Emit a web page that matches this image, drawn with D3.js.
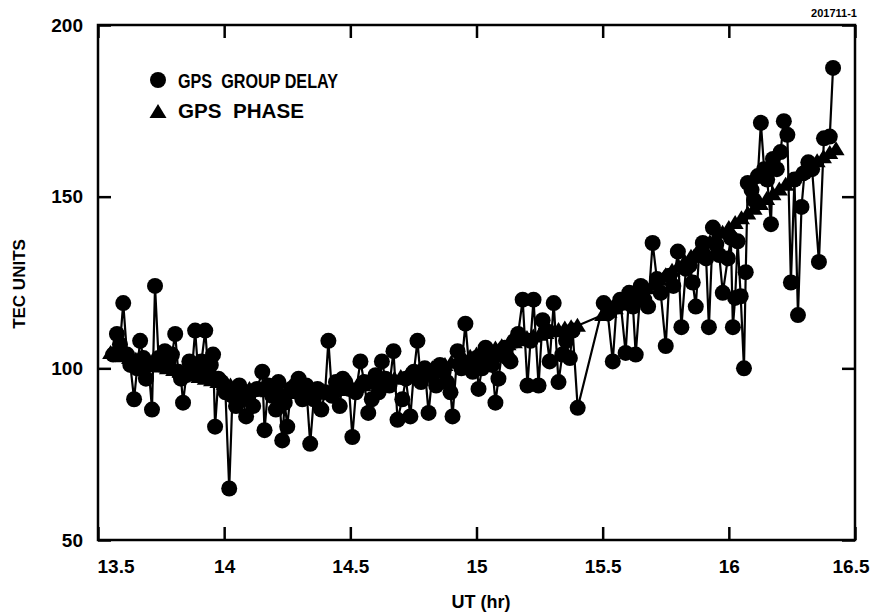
<!DOCTYPE html>
<html>
<head>
<meta charset="utf-8">
<script src="https://cdn.jsdelivr.net/npm/d3@7"></script>
<style>
  html, body { margin: 0; padding: 0; background: #fff; }
  svg { display: block; font-family: "Liberation Sans", Arial, Helvetica, sans-serif; font-weight: bold; }
</style>
</head>
<body>
<svg id="chart" width="872" height="614"></svg>
<script>
// ---------------- DATA ----------------
const xTickValues = [13.5, 14, 14.5, 15, 15.5, 16, 16.5];
const xTickLabels = ["13.5", "14", "14.5", "15", "15.5", "16", "16.5"];
const yTickValues = [50, 100, 150, 200];
const yTickLabels = ["50", "100", "150", "200"];

// GPS group delay (circles)
const gdTime = [
  13.56, 13.575, 13.587, 13.60, 13.615, 13.628, 13.643, 13.655, 13.667, 13.68,
  13.69, 13.70, 13.714, 13.726, 13.74, 13.752, 13.765, 13.78, 13.793, 13.806,
  13.818, 13.829, 13.837, 13.85, 13.862, 13.873, 13.885, 13.897, 13.91, 13.925,
  13.937, 13.947, 13.956, 13.964, 13.977, 13.99, 14.005, 14.02, 14.033, 14.047,
  14.06, 14.074, 14.087, 14.10, 14.115, 14.13, 14.151, 14.16, 14.175, 14.19,
  14.205, 14.215, 14.23, 14.24, 14.25, 14.265, 14.282, 14.295, 14.31, 14.325,
  14.341, 14.355, 14.37, 14.385, 14.40, 14.413, 14.428, 14.443, 14.458, 14.47,
  14.48, 14.495, 14.508, 14.522, 14.54, 14.555, 14.571, 14.585, 14.60, 14.612,
  14.625, 14.639, 14.655, 14.671, 14.687, 14.706, 14.72, 14.738, 14.752, 14.766,
  14.78, 14.795, 14.81, 14.825, 14.84, 14.855, 14.87, 14.883, 14.897, 14.905,
  14.925, 14.94, 14.956, 14.97, 14.985, 15.0, 15.008, 15.022, 15.036, 15.05,
  15.062, 15.075, 15.087, 15.10, 15.112, 15.124, 15.135, 15.15, 15.165, 15.183,
  15.202, 15.214, 15.226, 15.246, 15.262, 15.275, 15.29, 15.306, 15.325, 15.34,
  15.355, 15.37, 15.381, 15.401,
  15.504, 15.52, 15.54, 15.555, 15.57, 15.591, 15.605, 15.62, 15.631, 15.651,
  15.665, 15.68, 15.698, 15.715, 15.73, 15.75, 15.765, 15.78, 15.798, 15.812,
  15.83, 15.845, 15.857, 15.869, 15.882, 15.897, 15.91, 15.921, 15.937, 15.95,
  15.962, 15.976, 15.996, 16.008, 16.016, 16.025, 16.035, 16.047, 16.06, 16.067,
  16.075, 16.09, 16.10, 16.115, 16.127, 16.14, 16.152, 16.167, 16.175, 16.19,
  16.205, 16.218, 16.232, 16.246, 16.26, 16.274, 16.288, 16.30, 16.315, 16.33,
  16.357, 16.377, 16.40, 16.413
];
const gdTec = [
  104, 110, 107, 119, 104, 101, 91, 100, 108, 103,
  97, 101, 88, 124, 103, 101, 105, 102, 104, 110,
  99, 97, 90, 98, 102, 100, 111, 99, 102, 111,
  99, 101, 104, 83, 97, 96, 93, 65, 92, 89,
  95, 91, 86, 93, 89, 94, 99, 82, 95, 92,
  88, 96, 79, 90, 83, 94, 95, 97, 91, 95,
  78, 91, 94, 88, 93, 108, 92, 96, 89, 97,
  96, 94, 80, 93, 102, 96, 87, 91, 98, 93,
  102, 97, 95, 105, 85, 91, 97, 86, 99, 108,
  96, 100, 87, 98, 95, 101, 99, 96, 93, 86,
  105, 100, 113, 101, 99, 103, 94, 100, 106, 104,
  101, 90, 97, 104, 106, 103, 102, 108, 110, 120,
  95, 108, 120, 95, 114, 111, 102, 119, 96, 104,
  108, 103, 111, 88.5,
  119, 116, 102, 118, 120, 104.5, 122, 118, 104, 124,
  120, 118, 136.5, 126, 122, 106.5, 127, 124, 134, 112,
  129, 130, 125, 118, 133, 136.5, 132, 112, 141, 136,
  133, 122, 132, 138, 112, 120.5, 137, 121, 100, 128,
  154, 152, 149, 156, 171.5, 158, 155, 142, 161, 158,
  163, 172, 168, 125, 155, 115.5, 147, 157, 160, 158,
  131, 167, 167.5, 187.5
];

// GPS phase (triangles)
const phTime = [
  13.55, 13.575, 13.6, 13.625, 13.65, 13.675, 13.7, 13.725, 13.75, 13.775,
  13.8, 13.825, 13.85, 13.875, 13.9, 13.925, 13.95, 13.975, 14.0, 14.025,
  14.05, 14.075, 14.1, 14.125, 14.15, 14.175, 14.2, 14.225, 14.25, 14.275,
  14.3, 14.325, 14.35, 14.375, 14.4, 14.425, 14.45, 14.475, 14.5, 14.525,
  14.55, 14.575, 14.6, 14.625, 14.65, 14.675, 14.7, 14.725, 14.75, 14.775,
  14.8, 14.825, 14.85, 14.875, 14.9, 14.925, 14.95, 14.975, 15.0, 15.025,
  15.05, 15.075, 15.1, 15.125, 15.15, 15.175, 15.2, 15.225, 15.25, 15.275,
  15.3, 15.325, 15.35, 15.375, 15.4,
  15.5, 15.525, 15.55, 15.575, 15.6, 15.625, 15.65, 15.675, 15.7, 15.725,
  15.75, 15.775, 15.8, 15.825, 15.85, 15.875, 15.9, 15.925, 15.95, 15.975,
  16.0, 16.025, 16.05, 16.075, 16.1, 16.125, 16.15, 16.175, 16.2, 16.225,
  16.25, 16.275, 16.3, 16.325, 16.35, 16.375, 16.4, 16.425
];
const phTec = [
  104.5, 104, 103.5, 103, 102.5, 102, 101.5, 101, 100.5, 100,
  99.5, 99, 98.5, 98, 97.5, 97, 96.5, 96, 95.5, 95,
  94.5, 94.2, 94, 93.7, 93.5, 93.3, 93.1, 93, 92.9, 92.8,
  92.8, 92.8, 92.9, 93, 93.2, 93.4, 93.7, 94, 94.3, 94.7,
  95.1, 95.5, 95.8, 96.2, 96.6, 97, 97.5, 98, 98.5, 99,
  99.5, 100, 100.5, 101, 101.6, 102.2, 102.8, 103.4, 104, 104.6,
  105.2, 105.8, 106.4, 107, 107.6, 108.2, 108.8, 109.3, 109.8, 110.3,
  110.8, 111.2, 111.6, 112, 112.4,
  115.5, 116.5, 117.5, 118.6, 119.7, 120.9, 122.1, 123.3, 124.5, 125.8,
  127.1, 128.4, 129.7, 131.1, 132.5, 133.9, 135.3, 136.7, 138.1, 139.5,
  140.9, 142.3, 143.7, 145.1, 146.5, 147.9, 149.3, 150.7, 152.1, 153.5,
  154.9, 156.3, 157.7, 159, 160.3, 161.5, 162.7, 163.8
];

const legendLabels = ["GPS  GROUP DELAY", "GPS  PHASE"];

// ---------------- DRAWING ----------------
const svg = d3.select("#chart");
const plot = { left: 98, right: 855, top: 25, bottom: 540 };

const x = d3.scaleLinear().domain([13.5, 16.5]).range([plot.left, plot.right]);
const y = d3.scaleLinear().domain([50, 200]).range([plot.bottom, plot.top]);

const tickLen = 13;

// bottom axis
const gx = svg.append("g")
  .attr("transform", `translate(0,${plot.bottom})`)
  .call(d3.axisBottom(x).tickValues(xTickValues)
    .tickFormat((d, i) => xTickLabels[i]).tickSize(-tickLen).tickPadding(20));
gx.selectAll("text").attr("font-size", 19).attr("font-weight", "bold")
  .attr("font-family", "'Liberation Sans', Arial, sans-serif").attr("fill", "#000");
const nX = xTickValues.length;
gx.selectAll("text").filter((d, i) => i === 0).attr("text-anchor", "start").attr("x", -1);
gx.selectAll("text").filter((d, i) => i === nX - 1).attr("text-anchor", "end").attr("x", 14);

// top axis (ticks only)
const gxt = svg.append("g")
  .attr("transform", `translate(0,${plot.top})`)
  .call(d3.axisTop(x).tickValues(xTickValues).tickFormat("").tickSize(-tickLen));

// left axis
const gy = svg.append("g")
  .attr("transform", `translate(${plot.left},0)`)
  .call(d3.axisLeft(y).tickValues(yTickValues)
    .tickFormat((d, i) => yTickLabels[i]).tickSize(-tickLen).tickPadding(15));
gy.selectAll("text").attr("font-size", 19).attr("font-weight", "bold")
  .attr("font-family", "'Liberation Sans', Arial, sans-serif").attr("fill", "#000");

// right axis (ticks only)
const gyr = svg.append("g")
  .attr("transform", `translate(${plot.right},0)`)
  .call(d3.axisRight(y).tickValues(yTickValues).tickFormat("").tickSize(-tickLen));

[gx, gxt, gy, gyr].forEach(g => {
  g.select(".domain").remove();
  g.selectAll(".tick line").attr("stroke", "#000").attr("stroke-width", 2.5);
});

// frame
svg.append("rect")
  .attr("x", plot.left).attr("y", plot.top)
  .attr("width", plot.right - plot.left).attr("height", plot.bottom - plot.top)
  .attr("fill", "none").attr("stroke", "#000").attr("stroke-width", 2.5);

const phData = phTime.map((t, i) => ({ t, v: phTec[i] }));
const gdData = gdTime.map((t, i) => ({ t, v: gdTec[i] }));

const line = d3.line().x(d => x(d.t)).y(d => y(d.v));

// phase series
svg.append("path").datum(phData).attr("d", line)
  .attr("fill", "none").attr("stroke", "#000").attr("stroke-width", 2.2);

const triPath = "M0,-8 L8.5,6 L-8.5,6 Z";
svg.append("g").selectAll("path").data(phData).join("path")
  .attr("d", triPath)
  .attr("transform", d => `translate(${x(d.t)},${y(d.v)})`)
  .attr("fill", "#000");

// group delay series
svg.append("path").datum(gdData).attr("d", line)
  .attr("fill", "none").attr("stroke", "#000").attr("stroke-width", 2.2);

svg.append("g").selectAll("circle").data(gdData).join("circle")
  .attr("cx", d => x(d.t)).attr("cy", d => y(d.v)).attr("r", 8)
  .attr("fill", "#000");

// legend
const lg = svg.append("g");
lg.append("circle").attr("cx", 158).attr("cy", 80).attr("r", 8).attr("fill", "#000");
lg.append("path").attr("d", triPath).attr("transform", "translate(158,112)").attr("fill", "#000");
lg.append("text").attr("x", 178).attr("y", 88).attr("font-size", 20)
  .attr("textLength", 160).attr("lengthAdjust", "spacingAndGlyphs")
  .style("white-space", "pre").text(legendLabels[0]);
lg.append("text").attr("x", 178).attr("y", 118).attr("font-size", 20)
  .attr("textLength", 126).attr("lengthAdjust", "spacingAndGlyphs")
  .style("white-space", "pre").text(legendLabels[1]);

// axis titles
svg.append("text").attr("x", 481).attr("y", 608).attr("text-anchor", "middle")
  .attr("font-size", 18).text("UT (hr)");
svg.append("text").attr("transform", "translate(25,284) rotate(-90)")
  .attr("text-anchor", "middle").attr("font-size", 17).text("TEC UNITS");

// figure id
svg.append("text").attr("x", 857).attr("y", 17).attr("text-anchor", "end")
  .attr("font-size", 11).text("201711-1");
</script>
</body>
</html>
